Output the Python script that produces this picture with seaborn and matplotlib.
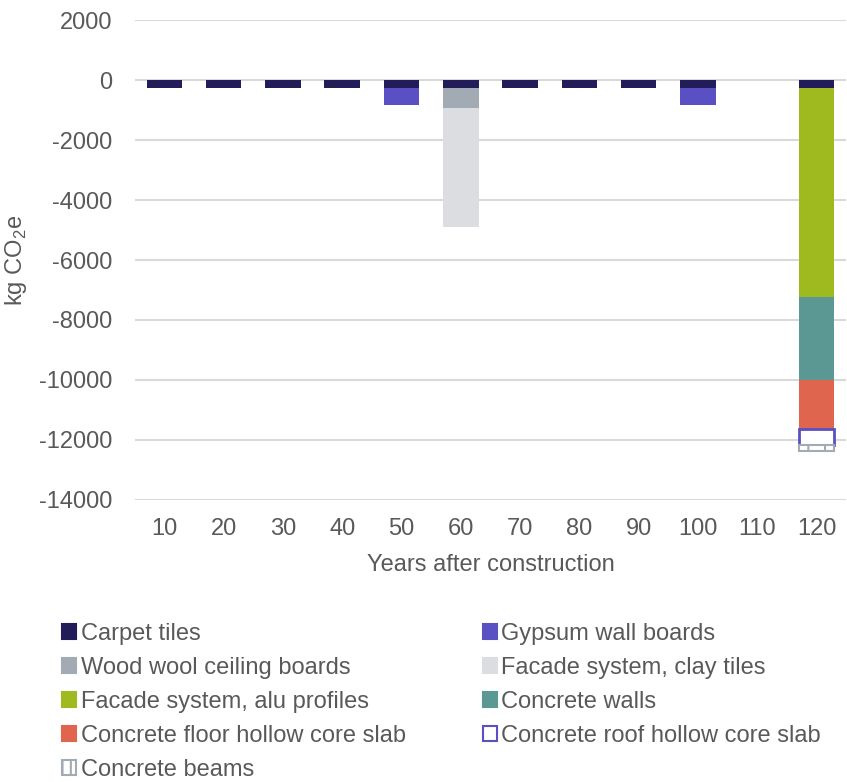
import pandas as pd
import matplotlib.pyplot as plt
import matplotlib.patches as mpatches
import seaborn as sns

# Years on the x axis
years = [10, 20, 30, 40, 50, 60, 70, 80, 90, 100, 110, 120]

# kg CO2e per material and year (replacements / end of life)
carpet_tiles = [-250, -250, -250, -250, -250, -250, -250, -250, -250, -250, 0, -250]
gypsum_wall_boards = [0, 0, 0, 0, -580, 0, 0, 0, 0, -580, 0, 0]
wood_wool_ceiling = [0, 0, 0, 0, 0, -690, 0, 0, 0, 0, 0, 0]
facade_clay_tiles = [0, 0, 0, 0, 0, -3950, 0, 0, 0, 0, 0, 0]
facade_alu_profiles = [0, 0, 0, 0, 0, 0, 0, 0, 0, 0, 0, -6980]
concrete_walls = [0, 0, 0, 0, 0, 0, 0, 0, 0, 0, 0, -2770]
concrete_floor_slab = [0, 0, 0, 0, 0, 0, 0, 0, 0, 0, 0, -1640]
concrete_roof_slab = [0, 0, 0, 0, 0, 0, 0, 0, 0, 0, 0, -530]
concrete_beams = [0, 0, 0, 0, 0, 0, 0, 0, 0, 0, 0, -220]

series = [
    ("Carpet tiles", carpet_tiles, dict(color="#221D58")),
    ("Gypsum wall boards", gypsum_wall_boards, dict(color="#5A4FC3")),
    ("Wood wool ceiling boards", wood_wool_ceiling, dict(color="#A2AAB3")),
    ("Facade system, clay tiles", facade_clay_tiles, dict(color="#DCDDE1")),
    ("Facade system, alu profiles", facade_alu_profiles, dict(color="#9FBA1E")),
    ("Concrete walls", concrete_walls, dict(color="#5B9893")),
    ("Concrete floor hollow core slab", concrete_floor_slab, dict(color="#E0654F")),
    ("Concrete roof hollow core slab", concrete_roof_slab,
     dict(color="white", edgecolor="#5A4FC3", linewidth=2)),
    ("Concrete beams", concrete_beams,
     dict(color="white", edgecolor="#A2AAB3", linewidth=1.5, hatch="|")),
]

sns.set_theme(style="white")
plt.rcParams['font.family'] = ['Liberation Sans', 'DejaVu Sans']
plt.rcParams['mathtext.fontset'] = 'custom'
plt.rcParams['mathtext.rm'] = 'Liberation Sans'
plt.rcParams['axes.unicode_minus'] = False
plt.rcParams['hatch.linewidth'] = 1.5
txt = "#595959"

fig = plt.figure(figsize=(8.47, 7.82), dpi=100)
ax = fig.add_axes([0.159, 0.361, 0.84, 0.613])

# real stacking: each series starts where the previous ones end
order = [str(y) for y in years]
base = [0] * len(years)
for name, vals, style in series:
    keep = [i for i, v in enumerate(vals) if v != 0]
    d = pd.DataFrame({"year": [str(years[i]) for i in keep],
                      "kg": [vals[i] for i in keep]})
    st = dict(style)
    st.setdefault("edgecolor", st["color"])
    st.setdefault("linewidth", 0)
    sns.barplot(data=d, x="year", y="kg", order=order, width=0.6, ax=ax,
                errorbar=None, saturation=1,
                bottom=[base[i] for i in keep], **st)
    base = [b + v for b, v in zip(base, vals)]

ax.set_ylim(-14000, 2000)
ax.set_yticks(range(-14000, 2001, 2000))
ax.grid(axis="y", color="#D9D9D9", linewidth=1.5)
ax.set_axisbelow(True)
sns.despine(ax=ax, left=True, bottom=True)
ax.tick_params(axis="both", length=0, labelsize=17, colors=txt)
ax.tick_params(axis="y", pad=16)
ax.tick_params(axis="x", pad=13)
ax.set_xlabel("Years after construction", fontsize=17, color=txt, labelpad=10)
ax.set_ylabel(r"kg CO$_\mathregular{2}$e", fontsize=17, color=txt, labelpad=7)

handles = []
for name, vals, style in series:
    st = dict(style)
    col = st.pop("color")
    st.setdefault("edgecolor", col)
    st["linewidth"] = 1.5
    if "hatch" in st:
        st["hatch"] = "||"
    handles.append(mpatches.Patch(facecolor=col, label=name, **st))

# legend reads row by row in the reference; matplotlib fills column by column
handles = handles[0::2] + handles[1::2]

fig.legend(handles=handles, loc="upper left", bbox_to_anchor=(0.062, 0.215),
           ncol=2, frameon=False, fontsize=17, labelcolor=txt,
           handlelength=0.6, handleheight=0.6, handletextpad=0.2,
           columnspacing=3.25, labelspacing=0.5, borderaxespad=0)

fig.savefig("out.png", dpi=100)
